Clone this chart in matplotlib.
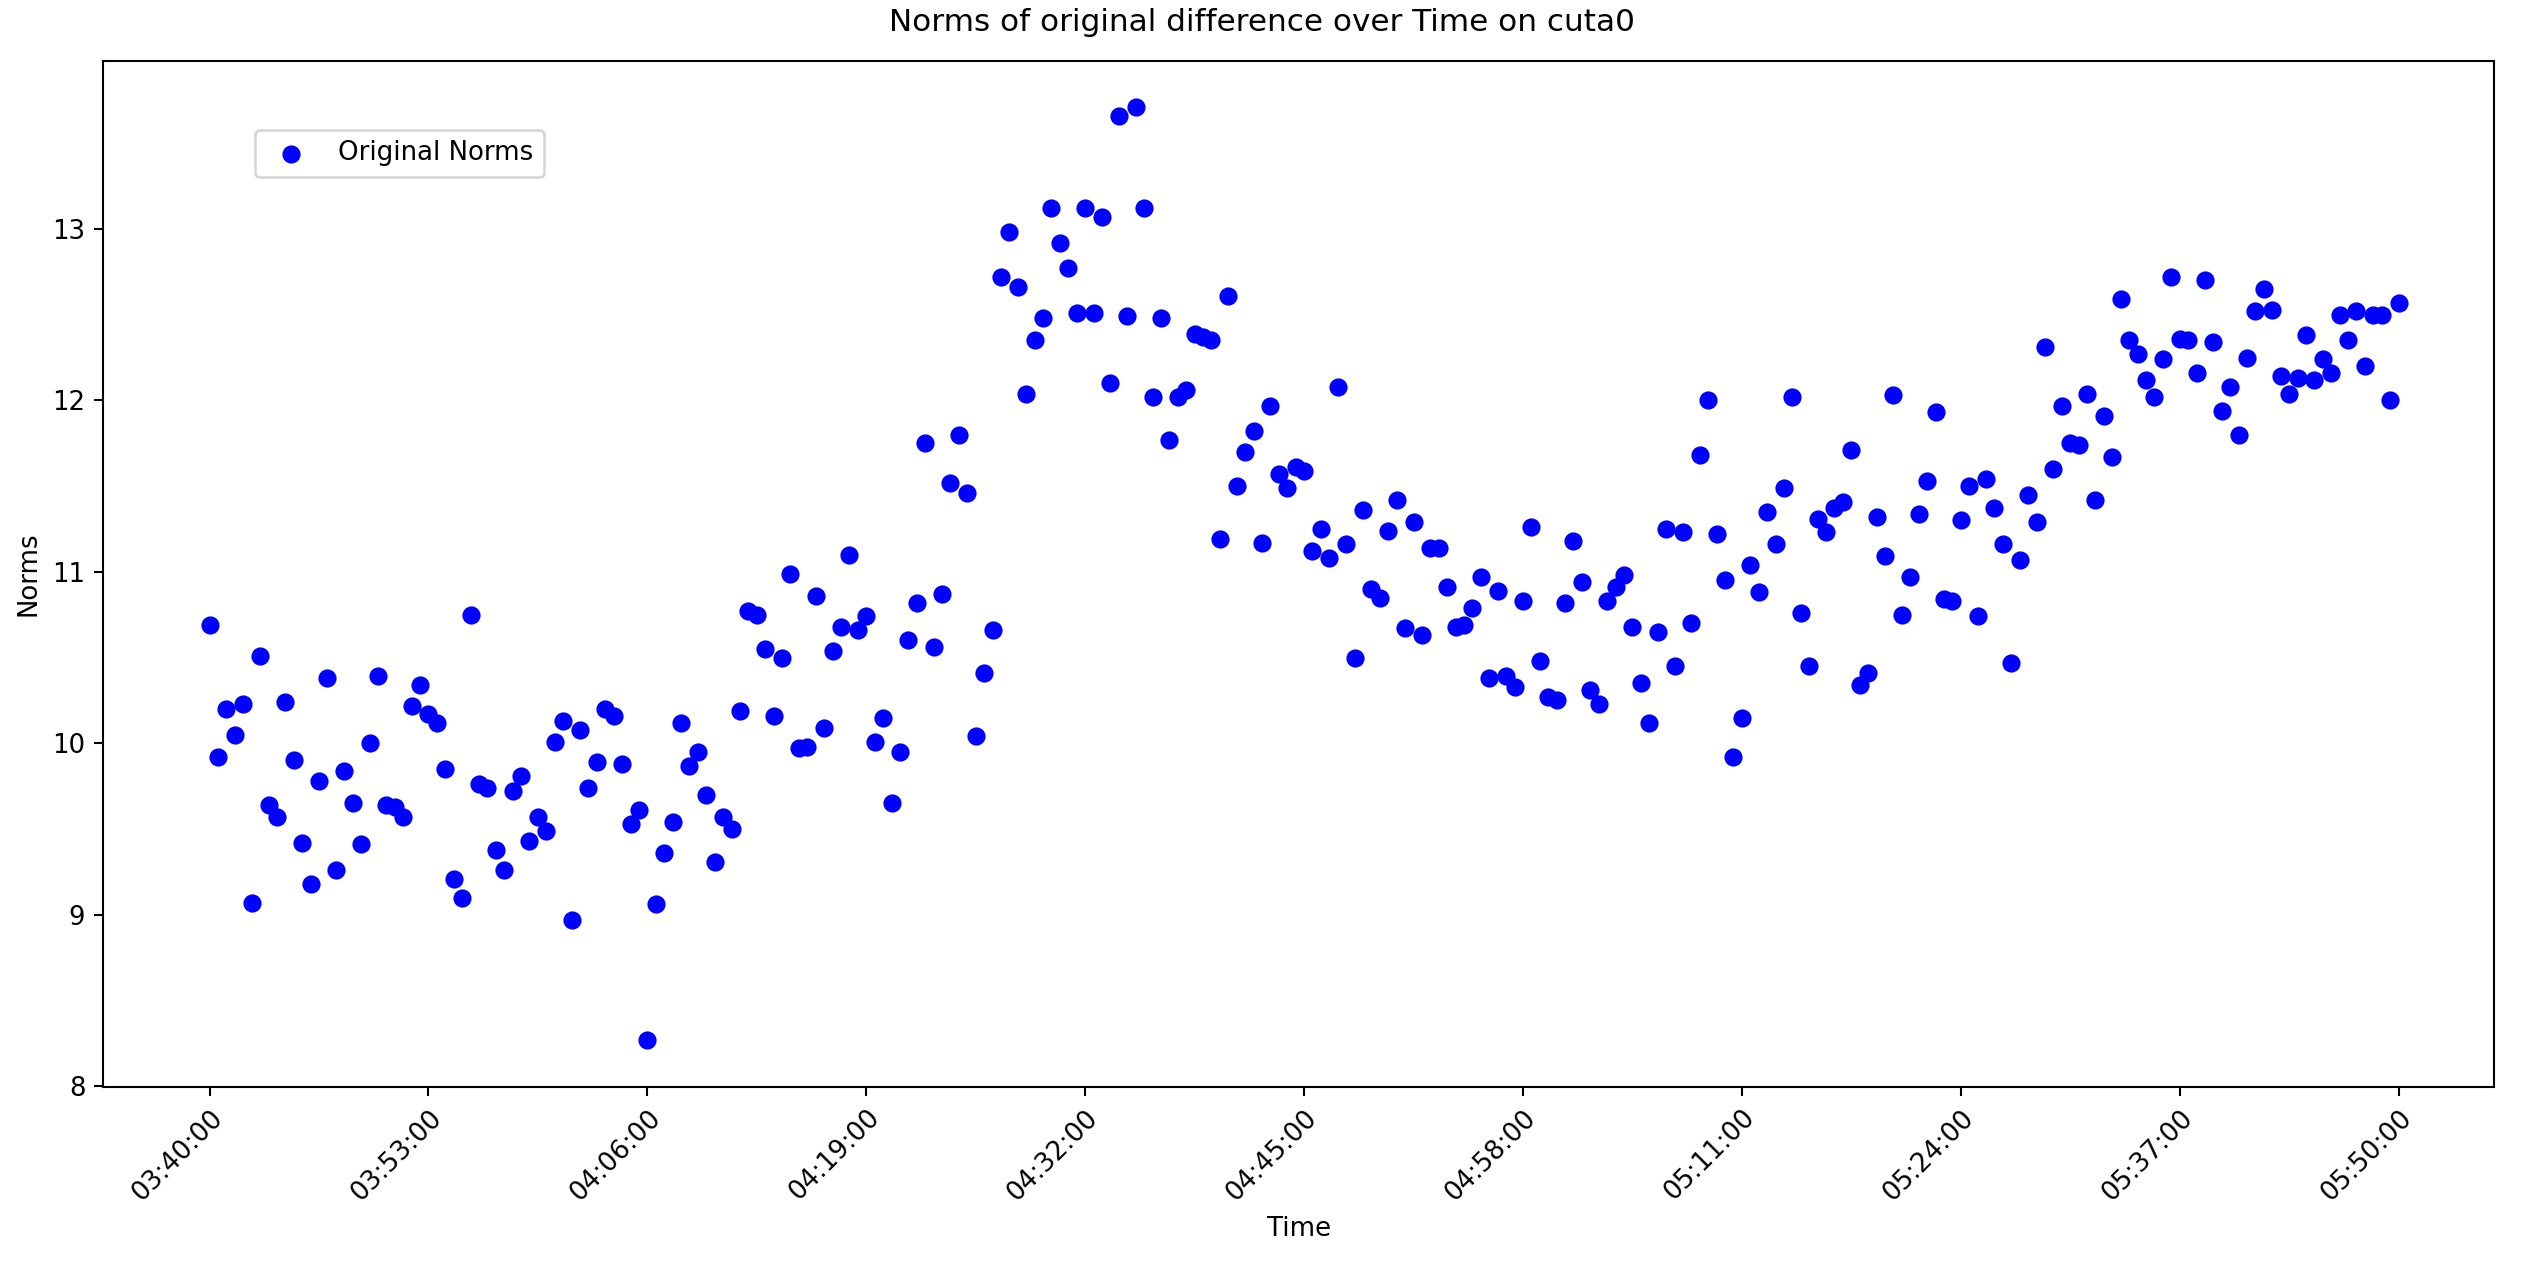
import pandas as pd
import matplotlib
matplotlib.use("Agg")
import matplotlib.pyplot as plt

# one sample every 30 s, 03:40:00 -> 05:50:00
start_time = "2024-01-01 03:40:00"
sample_step = "30s"
norms = [
    10.69, 9.92, 10.20, 10.05, 10.23, 9.07, 10.51, 9.64, 9.57, 10.24,
    9.90, 9.42, 9.18, 9.78, 10.38, 9.26, 9.84, 9.65, 9.41, 10.00,
    10.39, 9.64, 9.63, 9.57, 10.22, 10.34, 10.17, 10.12, 9.85, 9.21,
    9.10, 10.75, 9.76, 9.74, 9.38, 9.26, 9.72, 9.81, 9.43, 9.57,
    9.49, 10.01, 10.13, 8.97, 10.08, 9.74, 9.89, 10.20, 10.16, 9.88,
    9.53, 9.61, 8.27, 9.06, 9.36, 9.54, 10.12, 9.87, 9.95, 9.70,
    9.31, 9.57, 9.50, 10.19, 10.77, 10.75, 10.55, 10.16, 10.50, 10.99,
    9.97, 9.98, 10.86, 10.09, 10.54, 10.68, 11.10, 10.66, 10.74, 10.01,
    10.15, 9.65, 9.95, 10.60, 10.82, 11.75, 10.56, 10.87, 11.52, 11.80,
    11.46, 10.04, 10.41, 10.66, 12.72, 12.98, 12.66, 12.04, 12.35, 12.48,
    13.12, 12.92, 12.77, 12.51, 13.12, 12.51, 13.07, 12.10, 13.66, 12.49,
    13.71, 13.12, 12.02, 12.48, 11.77, 12.02, 12.06, 12.39, 12.37, 12.35,
    11.19, 12.61, 11.50, 11.70, 11.82, 11.17, 11.97, 11.57, 11.49, 11.61,
    11.59, 11.12, 11.25, 11.08, 12.08, 11.16, 10.50, 11.36, 10.90, 10.85,
    11.24, 11.42, 10.67, 11.29, 10.63, 11.14, 11.14, 10.91, 10.68, 10.69,
    10.79, 10.97, 10.38, 10.89, 10.39, 10.33, 10.83, 11.26, 10.48, 10.27,
    10.25, 10.82, 11.18, 10.94, 10.31, 10.23, 10.83, 10.91, 10.98, 10.68,
    10.35, 10.12, 10.65, 11.25, 10.45, 11.23, 10.70, 11.68, 12.00, 11.22,
    10.95, 9.92, 10.15, 11.04, 10.88, 11.35, 11.16, 11.49, 12.02, 10.76,
    10.45, 11.31, 11.23, 11.37, 11.41, 11.71, 10.34, 10.41, 11.32, 11.09,
    12.03, 10.75, 10.97, 11.34, 11.53, 11.93, 10.84, 10.83, 11.30, 11.50,
    10.74, 11.54, 11.37, 11.16, 10.47, 11.07, 11.45, 11.29, 12.31, 11.60,
    11.97, 11.75, 11.74, 12.04, 11.42, 11.91, 11.67, 12.59, 12.35, 12.27,
    12.12, 12.02, 12.24, 12.72, 12.36, 12.35, 12.16, 12.70, 12.34, 11.94,
    12.08, 11.80, 12.25, 12.52, 12.65, 12.53, 12.14, 12.04, 12.13, 12.38,
    12.12, 12.24, 12.16, 12.50, 12.35, 12.52, 12.20, 12.50, 12.50, 12.00,
    12.57,
]
tick_every = 26  # label every 26th sample (13 min)

times = pd.date_range(start_time, periods=len(norms), freq=sample_step)

W = 13.5
fig = plt.figure(figsize=(W, W / 2), dpi=2524 / W)
plt.scatter(times, norms, color="blue", label="Original Norms")
fig.suptitle("Norms of original difference over Time on cuta0", y=0.994, va="top")
plt.xlabel("Time")
plt.ylabel("Norms")
plt.xlim(times[0] - pd.Timedelta(minutes=6.3), times[-1] + pd.Timedelta(minutes=5.65))

tick_times = times[::tick_every]
plt.xticks(tick_times, [t.strftime("%H:%M:%S") for t in tick_times],
           rotation=45, ha="right", rotation_mode="anchor")
plt.legend(loc="upper left", bbox_to_anchor=(0.058, 0.945))

plt.subplots_adjust(left=0.041, right=0.988, top=0.952, bottom=0.139)
plt.savefig("out.png", dpi=2524 / W)
